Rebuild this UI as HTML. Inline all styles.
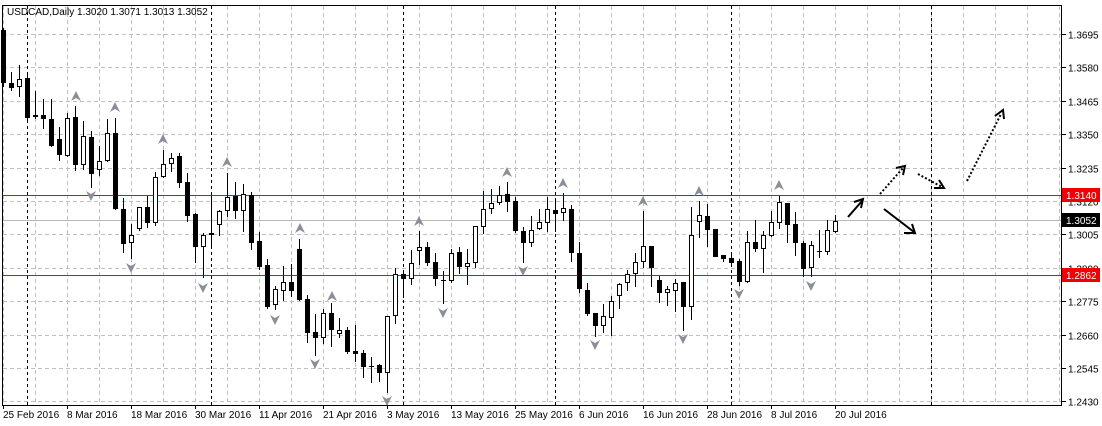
<!DOCTYPE html>
<html><head><meta charset="utf-8"><style>
html,body{margin:0;padding:0;background:#fff;}
svg{display:block;font-family:"Liberation Sans",sans-serif;font-size:10px;}
</style></head><body>
<svg id="c" width="1102" height="426" xmlns="http://www.w3.org/2000/svg">
<rect width="1102" height="426" fill="#fff"/>
<g id="grid"></g>
<g id="vlines" stroke="#000" stroke-dasharray="3,3"></g>
<line x1="2" y1="195.5" x2="1062" y2="195.5" stroke="#ff0000"/>
<line x1="2" y1="275.5" x2="1062" y2="275.5" stroke="#ff0000"/>
<line x1="2" y1="220.5" x2="1062" y2="220.5" stroke="#b8b8b8"/>
<g id="candles"></g>
<g id="fr" fill="#8a8e96"></g>
<g stroke="#000" stroke-width="2" fill="none">
<line x1="848" y1="217" x2="862" y2="201"/><polyline points="854,202 863,199 861,208"/>
<line x1="884" y1="209" x2="914" y2="232"/><polyline points="904,233 915,233 912,224"/>
<line x1="880" y1="194" x2="903" y2="168" stroke-dasharray="2,2"/><polyline points="896,168 905,166 903,175"/>
<line x1="918" y1="174" x2="942" y2="187" stroke-dasharray="2,2"/><polyline points="934,188 944,188 939,180"/>
<line x1="967" y1="181" x2="1001" y2="114" stroke-dasharray="2,2"/><polyline points="995,116 1003,110 1004,119"/>
</g>
<rect x="2.5" y="5.5" width="1059" height="400" fill="none" stroke="#000"/>
<g id="axis" fill="#000"></g>
<text x="7" y="15" fill="#000">USDCAD,Daily  1.3020 1.3071 1.3013 1.3052</text>
<rect x="1062" y="188" width="38" height="14" fill="#f00000"/>
<text x="1066" y="199" fill="#fff">1.3140</text>
<rect x="1062" y="213" width="38" height="14" fill="#000"/>
<text x="1066" y="224" fill="#fff">1.3052</text>
<rect x="1062" y="268" width="38" height="14" fill="#f00000"/>
<text x="1066" y="279" fill="#fff">1.2862</text>
</svg>
<script>
var NS="http://www.w3.org/2000/svg";
function el(p,t,a,txt){var e=document.createElementNS(NS,t);for(var k in a)e.setAttribute(k,a[k]);if(txt)e.textContent=txt;p.appendChild(e);return e;}
var g=document.getElementById('grid');
var prices=["1.3695","1.3580","1.3465","1.3350","1.3235","1.3120","1.3005","1.2890","1.2775","1.2660","1.2545","1.2430"];
var ax=document.getElementById('axis');
for(var i=0;i<12;i++){var y=Math.round(34+i*33.4)+0.5;
 el(g,'line',{x1:3,y1:y,x2:1062,y2:y,stroke:'#c0c0c0','stroke-dasharray':'4,3'});
 el(ax,'line',{x1:1062,y1:y,x2:1066,y2:y,stroke:'#000'});
 el(ax,'text',{x:1068,y:y+4},prices[i]);
}
for(var x=3;x<1062;x+=32){el(g,'line',{x1:x+0.5,y1:6,x2:x+0.5,y2:405,stroke:'#c0c0c0','stroke-dasharray':'4,3'});}
var vl=document.getElementById('vlines');
[27,211,403,555,731,931].forEach(function(x){el(vl,'line',{x1:x+0.5,y1:6,x2:x+0.5,y2:405});});
var dates=["25 Feb 2016","8 Mar 2016","18 Mar 2016","30 Mar 2016","11 Apr 2016","21 Apr 2016","3 May 2016","13 May 2016","25 May 2016","6 Jun 2016","16 Jun 2016","28 Jun 2016","8 Jul 2016","20 Jul 2016"];
for(var i=0;i<dates.length;i++){var x=3+64*i;el(ax,'line',{x1:x+0.5,y1:405,x2:x+0.5,y2:409,stroke:'#000'});el(ax,'text',{x:x,y:418},dates[i]);}
var d=[[0,30,83,28,87],[0,83,88,72,91],[1,79,87,65,97],[0,78,118,75,122],[1,115,117,91,119],[0,115,119,99,129],[0,119,146,99,147],[0,139,155,127,161],[1,118,156,113,157],[0,117,165,106,171],
[1,136,165,121,170],[0,137,174,131,188],[1,161,170,146,176],[1,133,161,119,162],[0,133,209,118,210],[0,209,244,198,253],[1,235,243,224,259],[1,207,229,207,231],[0,207,223,196,228],[1,177,223,172,226],
[1,164,177,150,178],[1,158,164,153,172],[0,156,183,153,188],[0,182,216,173,222],[0,214,247,213,263],[1,235,247,233,278],[1,233,235,193,247],[1,211,225,210,236],[1,197,211,173,217],[0,196,211,182,219],
[1,194,211,184,232],[0,195,243,192,250],[0,241,267,232,270],[0,265,307,259,309],[1,289,305,286,310],[1,282,291,266,301],[0,282,291,264,297],[0,249,300,239,301],[0,299,333,295,343],[0,332,338,314,356],
[1,313,338,309,344],[0,313,330,303,347],[1,330,334,318,338],[0,330,352,327,354],[0,351,354,325,362],[0,353,367,350,378],[0,366,367,357,383],[0,365,373,364,382],[1,316,373,316,393],[1,274,316,268,324],
[0,274,279,273,298],[1,263,279,250,285],[1,247,251,231,265],[0,247,263,242,266],[0,262,279,253,286],[0,280,281,271,304],[1,253,281,249,283],[0,252,267,247,274],[1,263,267,249,285],[1,226,263,226,268],
[1,209,227,191,234],[1,203,209,189,214],[1,195,203,186,205],[0,194,202,182,212],[0,201,231,197,233],[0,231,243,227,263],[1,230,243,216,247],[1,222,229,209,230],[1,209,223,197,232],[0,210,214,201,232],
[1,208,213,193,221],[0,209,253,205,262],[0,253,289,242,293],[0,290,314,283,316],[0,313,326,313,337],[1,316,326,304,333],[1,301,318,296,336],[1,284,296,283,309],[1,274,283,270,291],[1,262,274,253,287],
[1,246,262,211,268],[0,246,268,246,287],[0,280,293,276,303],[1,289,293,286,306],[1,283,291,279,312],[0,282,307,282,331],[1,235,307,207,320],[1,215,222,201,238],[0,216,230,204,247],[0,229,257,229,257],
[0,255,259,255,262],[0,258,263,253,267],[0,261,282,259,286],[1,242,282,231,283],[0,242,249,220,252],[1,235,249,231,273],[1,222,236,211,237],[1,202,223,196,229],[0,203,225,203,243],[0,224,243,212,256],
[0,243,269,241,277],[1,245,268,241,277],[0,251,252,230,258],[1,230,252,220,255],[1,221,232,215,233]];
var cg=document.getElementById('candles');
d.forEach(function(c,i){var cx=3.5+8*i;
 el(cg,'line',{x1:cx,y1:c[3],x2:cx,y2:c[4],stroke:'#000'});
 var h=Math.max(c[2]-c[1],1);
 if(c[0]==1){el(cg,'rect',{x:cx-2,y:c[1]+0.5,width:4,height:Math.max(h-1,1),fill:'#fff',stroke:'#000'});}
 else{el(cg,'rect',{x:cx-2.5,y:c[1],width:5,height:h,fill:'#000'});}
});
var fr=document.getElementById('fr');
[[76,97],[115,108],[163,140],[227,163],[300,229],[332,297],[419,222],[507,173],[563,184],[643,202],[699,192],[779,186]].forEach(function(p){
 el(fr,'polygon',{points:(p[0])+','+(p[1]-6)+' '+(p[0]+5)+','+(p[1]+4)+' '+p[0]+','+(p[1]+1)+' '+(p[0]-5)+','+(p[1]+4)});});
[[91,195],[131,267],[203,287],[275,319],[315,363],[387,400],[443,312],[523,270],[595,344],[683,338],[739,293],[811,285]].forEach(function(p){
 el(fr,'polygon',{points:(p[0])+','+(p[1]+6)+' '+(p[0]+5)+','+(p[1]-4)+' '+p[0]+','+(p[1]-1)+' '+(p[0]-5)+','+(p[1]-4)});});
</script>
</body></html>
